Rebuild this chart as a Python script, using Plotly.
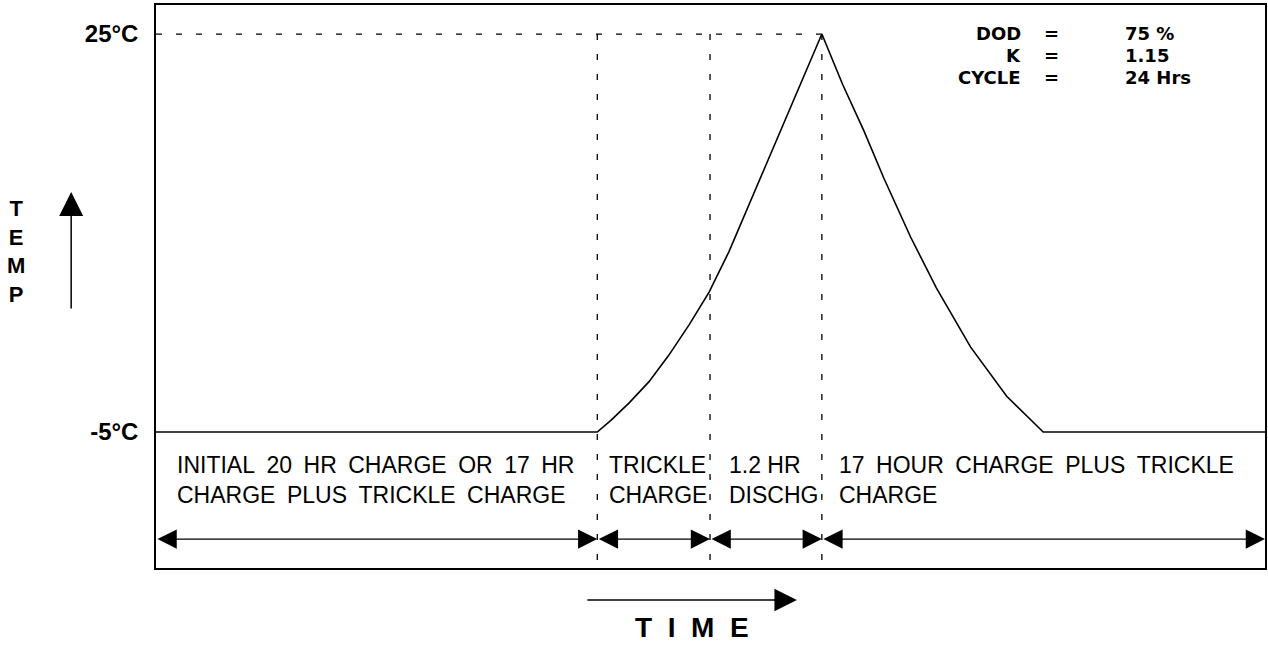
import plotly.graph_objects as go

# ---- data (schematic time axis in hours, temperature in °C) ----
time_h = [0, 9.55, 9.85, 10.24, 10.67, 11.10, 11.54, 11.97, 12.40, 14.41,
          14.86, 15.32, 15.75, 16.33, 16.89, 17.63, 18.41, 19.20, 24]
temp_c = [-5, -5, -4.1, -2.8, -1.2, 0.8, 3.1, 5.55, 8.6, 25,
          21.2, 17.7, 14.15, 9.7, 5.85, 1.4, -2.3, -5, -5]

phase_bounds = [0, 9.55, 11.99, 14.41, 24]
phase_labels = [
    "INITIAL\u200220\u2002HR\u2002CHARGE\u2002OR\u200217\u2002HR<br>CHARGE\u2002PLUS\u2002TRICKLE\u2002CHARGE",
    "TRICKLE<br>CHARGE",
    "1.2 HR<br>DISCHG",
    "17\u2002HOUR\u2002CHARGE\u2002PLUS\u2002TRICKLE<br>CHARGE",
]
label_x = [0.41, 9.76, 12.36, 14.73]

temp_ticks = [-5, 25]
temp_tick_text = ["-5°C", "25°C"]

param_names = ["DOD", "K", "CYCLE"]
param_values = ["75 %", "1.15", "24 Hrs"]

Y_MIN, Y_MAX = -15.25, 27.19
ARROW_Y = -13.07
LABEL_Y = -8.6
FONT = "Liberation Sans, Arial, Helvetica, sans-serif"
PFONT = "DejaVu Sans, Liberation Sans, Arial, sans-serif"

fig = go.Figure()

# temperature profile
fig.add_trace(go.Scatter(x=time_h, y=temp_c, mode="lines",
                         line=dict(color="black", width=1.6), hoverinfo="skip"))

# dashed reference lines
peak_t = phase_bounds[3]
dx, dy = [0, peak_t, None], [temp_ticks[1], temp_ticks[1], None]
for b in phase_bounds[1:4]:
    dx += [b, b, None]
    dy += [temp_ticks[1], Y_MIN, None]
fig.add_trace(go.Scatter(x=dx, y=dy, mode="lines",
                         line=dict(color="black", width=1.3, dash="6px,14px"),
                         hoverinfo="skip"))

# phase double-arrows
for i in range(4):
    fig.add_annotation(x=phase_bounds[i + 1], y=ARROW_Y, ax=phase_bounds[i], ay=ARROW_Y,
                       xref="x", yref="y", axref="x", ayref="y", text="",
                       showarrow=True, arrowside="end+start",
                       arrowhead=2, startarrowhead=2, arrowsize=3.5, startarrowsize=3.5,
                       arrowwidth=1.1, arrowcolor="black")

# phase labels
for lx, lab in zip(label_x, phase_labels):
    fig.add_annotation(x=lx, y=LABEL_Y, xref="x", yref="y", text=lab, showarrow=False,
                       xanchor="left", yanchor="middle", align="left",
                       font=dict(family=FONT, size=23, color="black"))

# parameter block
name_y = [(568 - 34) / 563, (568 - 55.5) / 563, (568 - 77) / 563]
for ny, n, v in zip(name_y, param_names, param_values):
    fig.add_annotation(x=0.7822, y=ny, xref="paper", yref="paper", text=n, showarrow=False,
                       xanchor="right", yanchor="middle",
                       font=dict(family=PFONT, size=18, color="black", weight="bold"))
    fig.add_annotation(x=0.8074, y=ny, xref="paper", yref="paper", text="=", showarrow=False,
                       xanchor="center", yanchor="middle",
                       font=dict(family=PFONT, size=18, color="black", weight="bold"))
    fig.add_annotation(x=0.8722, y=ny, xref="paper", yref="paper", text=v, showarrow=False,
                       xanchor="left", yanchor="middle",
                       font=dict(family=PFONT, size=18, color="black", weight="bold"))

# TEMP axis label with arrow
fig.add_annotation(x=-0.126, y=(568 - 251) / 563, xref="paper", yref="paper",
                   text="T<br>E<br>M<br>P", showarrow=False, xanchor="center", yanchor="middle",
                   font=dict(family=FONT, size=22, color="black", weight="bold"))
fig.add_annotation(x=-0.0765, y=(568 - 192) / 563, xref="paper", yref="paper",
                   ax=0, ay=118, axref="pixel", ayref="pixel", text="", showarrow=True,
                   arrowhead=2, arrowsize=3.2, arrowwidth=1.5, arrowcolor="black")

# TIME axis label with arrow
fig.add_annotation(x=13.87, y=-0.0568, xref="x", yref="paper",
                   ax=-211, ay=0, axref="pixel", ayref="pixel", text="", showarrow=True,
                   arrowhead=2, arrowsize=3.0, arrowwidth=1.5, arrowcolor="black")
fig.add_annotation(x=11.6, y=-0.1048, xref="x", yref="paper",
                   text="T\u00a0 I\u00a0 M\u00a0 E", showarrow=False,
                   xanchor="center", yanchor="middle",
                   font=dict(family=FONT, size=28, color="black", weight="bold"))

fig.update_xaxes(range=[0, 24], showgrid=False, zeroline=False, showticklabels=False,
                 ticks="", showline=True, mirror=True, linecolor="black", linewidth=1.5)
fig.update_yaxes(range=[Y_MIN, Y_MAX], showgrid=False, zeroline=False,
                 tickvals=temp_ticks, ticktext=temp_tick_text, ticks="",
                 ticklabelstandoff=11,
                 tickfont=dict(family=FONT, size=24, color="black", weight="bold"),
                 showline=True, mirror=True, linecolor="black", linewidth=1.5)

fig.update_layout(width=1268, height=645, margin=dict(l=156, r=1, t=5, b=77),
                  plot_bgcolor="white", paper_bgcolor="white", showlegend=False,
                  font=dict(family=FONT, color="black"))

fig.write_html("out.html", config={"displayModeBar": False},
               post_script="document.body.style.margin='0px';")
